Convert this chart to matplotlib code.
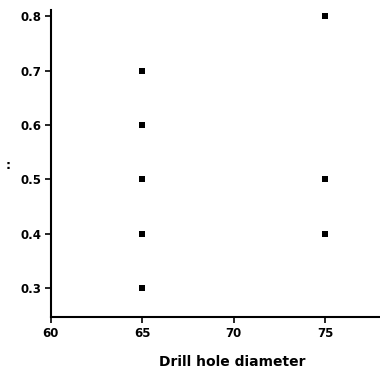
import matplotlib
matplotlib.use("Agg")
import matplotlib.pyplot as plt

# Measurements: drill hole diameter vs. response
diam_65 = [65, 65, 65, 65, 65]
vals_65 = [0.7, 0.6, 0.5, 0.4, 0.3]
diam_75 = [75, 75, 75]
vals_75 = [0.8, 0.5, 0.4]

x_ticks = [60, 65, 70, 75]
y_ticks = [0.3, 0.4, 0.5, 0.6, 0.7, 0.8]

plt.rcParams['font.family'] = ['DejaVu Sans']

fig = plt.figure(figsize=(3.8, 3.78), dpi=100)
ax = fig.add_axes([0.134, 0.161, 0.866, 0.812])

ax.scatter(diam_65 + diam_75, vals_65 + vals_75, marker='s', s=13,
           color='black', linewidths=0, zorder=3)

ax.set_xlim(60, 78)
ax.set_ylim(0.247, 0.811)
ax.set_xticks(x_ticks)
ax.set_yticks(y_ticks)
ax.set_xticklabels([str(v) for v in x_ticks], fontsize=8.5, fontweight='bold')
ax.set_yticklabels([f"{v:.1f}" for v in y_ticks], fontsize=8.5, fontweight='bold')
ax.tick_params(axis='both', direction='out', length=4, width=1.2, color='black', pad=3)

for side in ('top', 'right'):
    ax.spines[side].set_visible(False)
for side in ('left', 'bottom'):
    ax.spines[side].set_linewidth(1.5)

fig.text(232 / 380, 1 - 362 / 378, "Drill hole diameter", fontsize=10,
         fontweight='bold', ha='center', va='center')
fig.text(0.021, 0.563, ":", fontsize=9, fontweight='bold', ha='center', va='center')

fig.savefig("out.png", dpi=100)
